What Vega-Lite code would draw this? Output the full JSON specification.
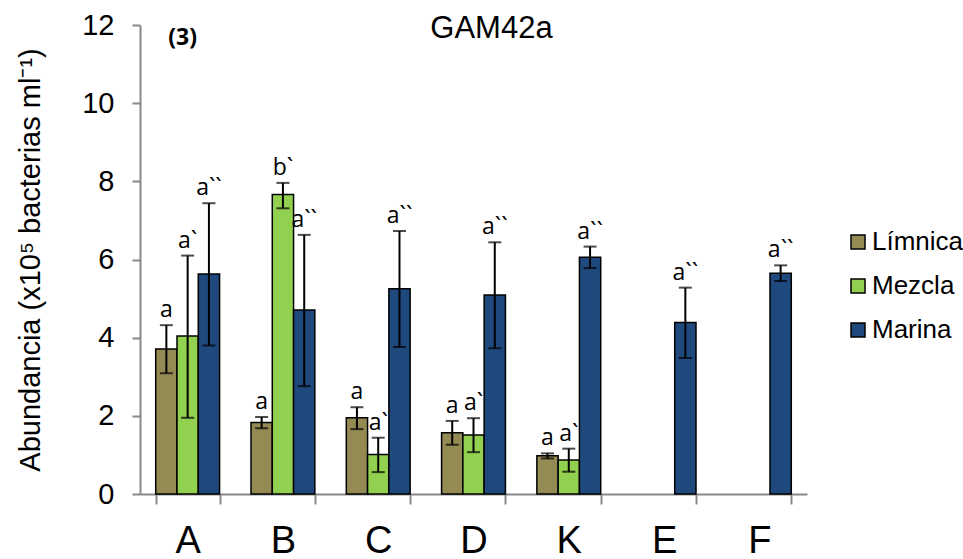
{
  "$schema": "https://vega.github.io/schema/vega-lite/v6.json",
  "autosize": "none",
  "width": 667,
  "height": 469,
  "padding": {"left": 140, "top": 25, "right": 156, "bottom": 65},
  "background": "white",
  "title": {"text": "GAM42a", "font": "Liberation Sans", "fontSize": 31, "fontWeight": "normal", "color": "black", "anchor": "middle", "dx": 18, "dy": 62, "baseline": "alphabetic"},
  "data": {"values": [
    {"cat": "A", "grp": "Límnica", "mean": 3.71, "lo": 3.09, "hi": 4.32, "label": "a"},
    {"cat": "A", "grp": "Mezcla", "mean": 4.04, "lo": 1.95, "hi": 6.10, "label": "a`"},
    {"cat": "A", "grp": "Marina", "mean": 5.63, "lo": 3.80, "hi": 7.44, "label": "a``"},
    {"cat": "B", "grp": "Límnica", "mean": 1.83, "lo": 1.68, "hi": 1.97, "label": "a"},
    {"cat": "B", "grp": "Mezcla", "mean": 7.66, "lo": 7.31, "hi": 7.96, "label": "b`"},
    {"cat": "B", "grp": "Marina", "mean": 4.71, "lo": 2.76, "hi": 6.63, "label": "a``"},
    {"cat": "C", "grp": "Límnica", "mean": 1.95, "lo": 1.66, "hi": 2.22, "label": "a"},
    {"cat": "C", "grp": "Mezcla", "mean": 1.01, "lo": 0.56, "hi": 1.44, "label": "a`"},
    {"cat": "C", "grp": "Marina", "mean": 5.25, "lo": 3.76, "hi": 6.73, "label": "a``"},
    {"cat": "D", "grp": "Límnica", "mean": 1.57, "lo": 1.26, "hi": 1.87, "label": "a"},
    {"cat": "D", "grp": "Mezcla", "mean": 1.51, "lo": 1.07, "hi": 1.94, "label": "a`"},
    {"cat": "D", "grp": "Marina", "mean": 5.09, "lo": 3.73, "hi": 6.44, "label": "a``"},
    {"cat": "K", "grp": "Límnica", "mean": 0.98, "lo": 0.91, "hi": 1.04, "label": "a"},
    {"cat": "K", "grp": "Mezcla", "mean": 0.87, "lo": 0.57, "hi": 1.16, "label": "a`"},
    {"cat": "K", "grp": "Marina", "mean": 6.06, "lo": 5.78, "hi": 6.33, "label": "a``"},
    {"cat": "E", "grp": "Marina", "mean": 4.39, "lo": 3.48, "hi": 5.28, "label": "a``"},
    {"cat": "F", "grp": "Marina", "mean": 5.65, "lo": 5.45, "hi": 5.85, "label": "a``"}
  ]},
  "encoding": {
    "x": {"field": "cat", "type": "nominal", "sort": ["A", "B", "C", "D", "K", "E", "F"],
      "scale": {"domain": ["A", "B", "C", "D", "K", "E", "F"], "paddingInner": 0.33, "paddingOuter": 0.165},
      "axis": {"title": null, "labelAngle": 0, "labelFont": "Liberation Sans", "labelFontSize": 38, "labelColor": "black", "labelPadding": 18,
        "tickBand": "extent", "tickSize": 10, "tickColor": "#888888", "tickWidth": 2, "domainColor": "#888888", "domainWidth": 2}},
    "xOffset": {"field": "grp", "type": "nominal", "scale": {"domain": ["Límnica", "Mezcla", "Marina"], "paddingInner": 0, "paddingOuter": 0}}
  },
  "layer": [
    {
      "mark": {"type": "bar", "stroke": "black", "strokeWidth": 1.5},
      "encoding": {
        "y": {"field": "mean", "type": "quantitative", "scale": {"domain": [0, 12]},
          "axis": {"title": "Abundancia (x10⁵ bacterias ml⁻¹)", "titleFont": "Liberation Sans", "titleFontSize": 29, "titleFontWeight": "normal", "titleColor": "black", "titlePadding": 36,
            "values": [0, 2, 4, 6, 8, 10, 12], "grid": false, "labelFont": "Liberation Sans", "labelFontSize": 29, "labelColor": "black", "labelPadding": 18,
            "tickSize": 8, "tickColor": "#888888", "tickWidth": 2, "domainColor": "#888888", "domainWidth": 2}},
        "color": {"field": "grp", "type": "nominal",
          "scale": {"domain": ["Límnica", "Mezcla", "Marina"], "range": ["#948A54", "#92D050", "#1F497D"]},
          "legend": {"title": null, "orient": "none", "legendX": 705, "legendY": 204, "symbolType": "square", "symbolSize": 196,
            "symbolStrokeColor": "black", "symbolStrokeWidth": 1.5, "labelFont": "Liberation Sans", "labelFontSize": 26, "labelColor": "black",
            "rowPadding": 18, "labelOffset": 1}}
      }
    },
    {
      "mark": {"type": "rule", "color": "black", "strokeWidth": 2},
      "encoding": {"y": {"field": "lo", "type": "quantitative"}, "y2": {"field": "hi"}}
    },
    {
      "mark": {"type": "tick", "color": "black", "thickness": 2, "size": 13, "orient": "horizontal"},
      "encoding": {"y": {"field": "lo", "type": "quantitative"}}
    },
    {
      "mark": {"type": "tick", "color": "black", "thickness": 2, "size": 13, "orient": "horizontal"},
      "encoding": {"y": {"field": "hi", "type": "quantitative"}}
    },
    {
      "mark": {"type": "text", "font": "Open Sans", "fontSize": 23, "color": "black", "baseline": "middle", "dy": -15},
      "encoding": {"y": {"field": "hi", "type": "quantitative"}, "text": {"field": "label"}}
    },
    {
      "data": {"values": [{"cat": "A", "grp": "Mezcla", "note": "(3)", "yv": 11.67}]},
      "mark": {"type": "text", "font": "Open Sans", "fontSize": 23, "fontWeight": "bold", "color": "black", "baseline": "middle", "align": "center", "dx": -5},
      "encoding": {"y": {"field": "yv", "type": "quantitative"}, "text": {"field": "note"}}
    }
  ],
  "config": {"view": {"stroke": null}}
}
